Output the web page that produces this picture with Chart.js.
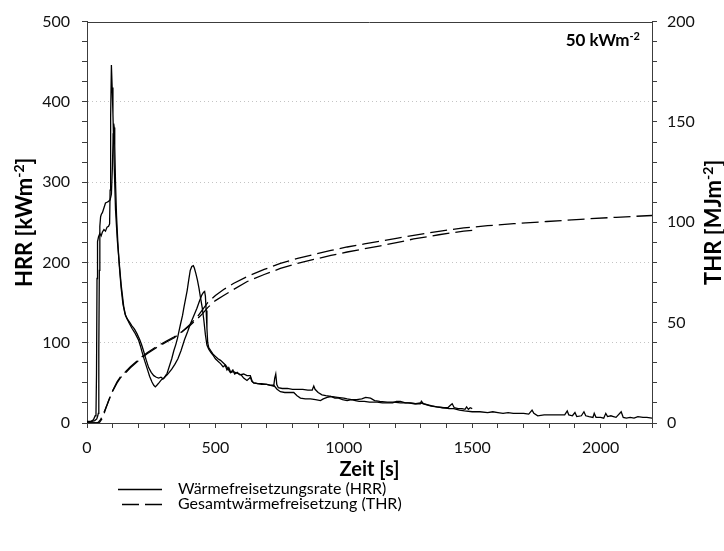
<!DOCTYPE html>
<html>
<head>
<meta charset="utf-8">
<script src="https://cdn.jsdelivr.net/npm/chart.js@4/dist/chart.umd.min.js"></script>
<style>
  html, body { margin: 0; padding: 0; background: #fff; }
  #c { display: block; }
</style>
</head>
<body>
<canvas id="c" width="724" height="551"></canvas>
<script>
// Cone calorimeter test at 50 kW/m²: two specimens.
// Heat release rate, [time s, HRR kW/m²]
const hrrA = [[0,2],[15,2],[25,4],[32,9],[35,12],[37,60],[39,180],[41,226],[45,232],[50,236],[55,233],[60,238],[66,241],[72,239],[78,244],[84,245],[88,248],[90,290],[92,380],[95,446],[98,418],[101,385],[106,320],[111,266],[118,228],[124,205],[133,172],[143,145],[150,134],[156,130],[165,124],[175,118],[185,113],[195,107],[201,103],[208,96],[214,89],[224,78],[234,68],[244,58],[253,51],[260,47],[266,45],[272,47],[280,50],[290,54],[300,56],[306,59],[312,62],[320,70],[330,80],[338,90],[346,98],[352,105],[358,114],[364,123],[372,134],[378,145],[384,155],[390,165],[396,178],[402,190],[408,195],[414,196],[418,193],[424,186],[430,178],[436,168],[441,158],[449,143],[455,128],[461,110],[467,97],[474,92],[482,88],[492,84],[500,80],[510,77],[520,74],[530,70],[538,72],[545,66],[552,69],[560,63],[568,66],[575,61],[585,63],[595,60],[610,61],[623,59],[636,59],[643,52],[649,50],[665,49],[680,48],[700,48],[715,47],[727,46],[731,56],[735,61],[739,48],[745,44],[760,43],[780,43],[800,42],[820,42],[840,42],[860,41],[877,41],[883,46],[888,42],[900,38],[915,35],[930,34],[950,33],[975,32],[1000,31],[1013,30],[1030,29],[1050,29],[1070,30],[1085,32],[1104,31],[1120,28],[1140,27],[1169,26],[1195,26],[1220,25],[1250,25],[1275,24],[1298,24],[1302,27],[1310,24],[1335,22],[1362,20],[1390,19],[1410,18],[1428,18],[1450,16],[1470,15],[1500,14],[1530,14],[1560,13],[1580,14],[1600,13],[1620,12],[1640,13],[1660,12],[1680,12],[1700,12],[1720,11],[1733,16],[1740,12],[1755,9],[1780,10],[1800,10],[1830,10],[1860,10],[1870,15],[1876,10],[1890,9],[1900,13],[1907,8],[1925,9],[1935,14],[1942,9],[1955,8],[1970,7],[1975,12],[1982,7],[2000,7],[2012,6],[2020,12],[2027,8],[2040,9],[2050,8],[2060,7],[2080,14],[2088,7],[2100,6],[2115,7],[2130,6],[2145,8],[2165,7],[2180,7],[2200,6]];

const hrrB = [[0,1],[20,2],[30,3],[38,5],[42,9],[44,12],[46,90],[48,190],[50,245],[53,257],[56,260],[60,262],[64,266],[68,270],[72,274],[78,275],[84,276],[90,278],[95,285],[99,320],[102,360],[104,373],[106,368],[108,345],[111,300],[115,258],[120,225],[126,195],[133,168],[140,148],[148,136],[156,130],[165,126],[175,121],[185,117],[195,111],[205,104],[212,98],[220,90],[230,79],[240,69],[250,63],[260,59],[270,57],[279,56],[288,57],[296,55],[305,58],[312,60],[320,63],[330,67],[342,73],[354,80],[366,90],[380,104],[392,114],[402,123],[415,133],[428,143],[438,152],[448,160],[454,163],[458,164],[461,158],[464,140],[467,118],[470,100],[474,94],[482,90],[490,86],[500,83],[510,80],[520,78],[530,75],[540,72],[548,68],[558,63],[570,64],[585,62],[600,60],[610,56],[623,53],[630,55],[636,57],[642,52],[649,50],[665,49],[680,49],[700,48],[715,47],[727,47],[740,42],[753,39],[770,38],[790,38],[805,38],[818,34],[831,31],[850,30],[870,30],[890,29],[909,28],[920,30],[935,32],[950,33],[965,31],[980,31],[995,29],[1013,28],[1030,29],[1045,28],[1060,27],[1080,27],[1100,26],[1130,26],[1150,25],[1169,25],[1190,25],[1205,27],[1220,27],[1240,25],[1260,25],[1280,24],[1298,25],[1320,23],[1340,21],[1362,20],[1385,19],[1405,19],[1415,22],[1422,24],[1430,19],[1445,18],[1460,18],[1472,17],[1478,20],[1485,17],[1492,19],[1500,18]];

// Total heat released, [time s, THR MJ/m²]
const thrA = [[0,0],[38,0],[45,0.5],[52,1.5],[60,3.5],[70,6.5],[78,9],[90,13],[100,16],[117,20],[130,22.5],[150,25],[169,27.5],[200,31],[234,34.5],[270,37.5],[311,40.5],[340,42.5],[370,45.5],[400,49],[430,53],[450,56.5],[470,60],[500,63.5],[532,66.5],[570,69.5],[624,73],[690,76.5],[753,79.5],[820,82],[883,84],[950,86],[1013,87.7],[1080,89.2],[1143,90.6],[1210,92.1],[1272,93.5],[1370,95.5],[1467,97.2],[1560,98.3],[1662,99.3],[1790,100.4],[1922,101.5],[2060,102.5],[2200,103.4]];

const thrB = [[0,0],[44,0],[50,0.5],[58,2],[66,4.5],[75,8],[85,11.5],[100,16],[117,20.5],[130,23],[150,25.5],[169,28],[200,31.5],[234,35],[270,38],[311,41],[340,43],[370,45.5],[400,48.5],[430,52],[450,54.5],[470,57.5],[500,61],[532,63.5],[570,66.5],[624,70.5],[690,74],[753,77],[820,79.5],[883,81.5],[950,83.5],[1013,85.2],[1080,86.8],[1143,88.3],[1210,90],[1272,91.7],[1370,93.8],[1467,95.6],[1500,96]];

// Axis ranges and labelled tick steps
const timeRange = [0, 2200];
const hrrRange = [0, 500];
const thrRange = [0, 200];
const timeLabelStep = 500, hrrLabelStep = 100, thrLabelStep = 50;

// Texts
const xTitle = 'Zeit [s]';
const yTitle = ['HRR [kWm', '-2', ']'];
const y2Title = ['THR [MJm', '-2', ']'];
const fluxNote = ['50 kWm', '-2'];
const legendSolid = 'Wärmefreisetzungsrate (HRR)';
const legendDashed = 'Gesamtwärmefreisetzung (THR)';

const FONT = 'Lato, "Open Sans", "DejaVu Sans", sans-serif';
const AXIS_COLOR = '#3c3c3c';
const DASH = [17, 6];

const toPoints = arr => arr.map(([x, y]) => ({ x, y }));

function lineSet(label, arr, axis, dashed) {
  return {
    label,
    data: toPoints(arr),
    yAxisID: axis,
    borderColor: '#000',
    borderWidth: 1.3,
    borderDash: dashed ? DASH : [],
    pointRadius: 0,
    tension: 0,
    fill: false
  };
}

// Writes text pieces side by side, every second piece raised as a superscript.
function drawSupText(ctx, parts, size, startX, baseY) {
  let x = startX;
  parts.forEach((p, i) => {
    const sup = i % 2 === 1;
    ctx.font = 'bold ' + (sup ? Math.round(size * 0.62) : size) + 'px ' + FONT;
    ctx.fillText(p, x, sup ? baseY - size * 0.38 : baseY);
    x += ctx.measureText(p).width;
  });
  return x - startX;
}
function measureSupText(ctx, parts, size) {
  let w = 0;
  parts.forEach((p, i) => {
    const sup = i % 2 === 1;
    ctx.font = 'bold ' + (sup ? Math.round(size * 0.62) : size) + 'px ' + FONT;
    w += ctx.measureText(p).width;
  });
  return w;
}

const decorations = {
  id: 'decorations',
  afterDraw(chart) {
    const { ctx, chartArea: a } = chart;
    ctx.save();
    // frame top edge
    ctx.strokeStyle = AXIS_COLOR;
    ctx.lineWidth = 1;
    ctx.beginPath();
    ctx.moveTo(a.left, Math.round(a.top) + 0.5);
    ctx.lineTo(a.right, Math.round(a.top) + 0.5);
    ctx.stroke();

    ctx.fillStyle = '#000';
    ctx.textBaseline = 'alphabetic';
    ctx.textAlign = 'left';

    // rotated axis titles
    const tSize = 22;
    [[yTitle, 24], [y2Title, 713]].forEach(([parts, cx]) => {
      const w = measureSupText(ctx, parts, tSize);
      ctx.save();
      ctx.translate(cx, (a.top + a.bottom) / 2);
      ctx.rotate(-Math.PI / 2);
      drawSupText(ctx, parts, tSize, -w / 2, tSize * 0.36);
      ctx.restore();
    });

    // x title
    ctx.font = 'bold 20px ' + FONT;
    ctx.textAlign = 'center';
    ctx.fillText(xTitle, (a.left + a.right) / 2, 476);
    ctx.textAlign = 'left';

    // flux annotation
    const nw = measureSupText(ctx, fluxNote, 17);
    drawSupText(ctx, fluxNote, 17, 640 - nw, 46);

    // legend
    ctx.strokeStyle = '#000';
    ctx.lineWidth = 1.3;
    ctx.beginPath();
    ctx.moveTo(118, 489.5);
    ctx.lineTo(162, 489.5);
    ctx.stroke();
    ctx.setLineDash(DASH);
    ctx.lineDashOffset = -4;
    ctx.beginPath();
    ctx.moveTo(118, 504.5);
    ctx.lineTo(162, 504.5);
    ctx.stroke();
    ctx.setLineDash([]);
    ctx.font = '16px ' + FONT;
    ctx.textBaseline = 'middle';
    ctx.fillText(legendSolid, 178, 489);
    ctx.fillText(legendDashed, 178, 504);
    ctx.restore();
  }
};

const tickFont = { family: FONT, size: 16 };

new Chart(document.getElementById('c'), {
  type: 'line',
  data: {
    datasets: [
      lineSet('THR A', thrA, 'y2', true),
      lineSet('THR B', thrB, 'y2', true),
      lineSet('HRR B', hrrB, 'y', false),
      lineSet('HRR A', hrrA, 'y', false)
    ]
  },
  options: {
    responsive: false,
    animation: false,
    parsing: true,
    layout: { padding: { top: 17, left: 0, right: 0, bottom: 0 } },
    plugins: { legend: { display: false }, tooltip: { enabled: false } },
    scales: {
      x: {
        type: 'linear',
        position: 'bottom',
        min: timeRange[0],
        max: timeRange[1],
        ticks: {
          stepSize: 100,
          autoSkip: false,
          maxRotation: 0,
          padding: 10,
          color: '#111',
          font: tickFont,
          callback: v => (v % timeLabelStep === 0 ? String(v) : '')
        },
        grid: { drawOnChartArea: false, drawTicks: true, tickLength: 5, tickColor: AXIS_COLOR },
        border: { color: AXIS_COLOR, width: 1 },
        afterFit: s => { s.height = 128; }
      },
      y: {
        type: 'linear',
        position: 'left',
        min: hrrRange[0],
        max: hrrRange[1],
        ticks: {
          stepSize: 25,
          autoSkip: false,
          padding: 12,
          color: '#111',
          font: tickFont,
          callback: v => (v % hrrLabelStep === 0 ? String(v) : '')
        },
        grid: {
          drawOnChartArea: true,
          tickLength: 5,
          tickColor: AXIS_COLOR,
          color: c => (c.tick && c.tick.value % hrrLabelStep === 0 && c.tick.value > hrrRange[0] && c.tick.value < hrrRange[1]) ? '#c4c4c4' : 'rgba(0,0,0,0)'
        },
        border: { color: AXIS_COLOR, width: 1, dash: [1, 3] },
        afterFit: s => { s.width = 87; }
      },
      y2: {
        type: 'linear',
        position: 'right',
        min: thrRange[0],
        max: thrRange[1],
        ticks: {
          stepSize: 10,
          autoSkip: false,
          padding: 10,
          color: '#111',
          font: tickFont,
          callback: v => (v % thrLabelStep === 0 ? String(v) : '')
        },
        grid: { drawOnChartArea: false, tickLength: 5, tickColor: AXIS_COLOR },
        border: { color: AXIS_COLOR, width: 1 },
        afterFit: s => { s.width = 72; }
      }
    }
  },
  plugins: [decorations]
});
</script>
</body>
</html>
